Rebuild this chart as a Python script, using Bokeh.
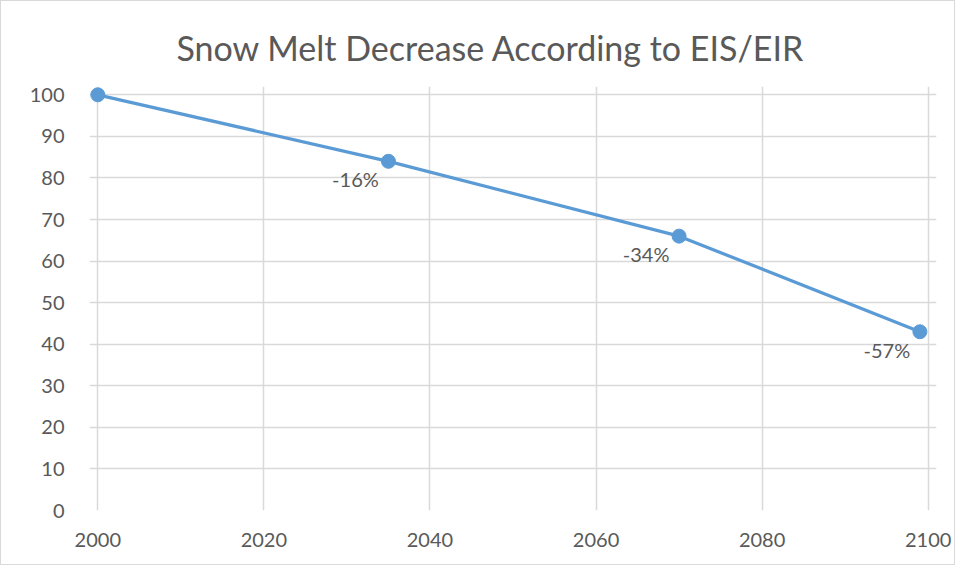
from bokeh.plotting import figure
from bokeh.models import ColumnDataSource, Range1d, FixedTicker
from bokeh.embed import file_html
from bokeh.resources import INLINE
from bokeh.core.properties import value

years = [2000, 2035, 2070, 2099]
snow_melt = [100, 84, 66, 43]
labels = ["", "-16%", "-34%", "-57%"]
x_ticks = [2000, 2020, 2040, 2060, 2080, 2100]
y_ticks = [0, 10, 20, 30, 40, 50, 60, 70, 80, 90, 100]

src = ColumnDataSource(dict(x=years, y=snow_melt, lab=labels))

FONT = "Lato"
GREY = "#595959"
GRID = "#d9d9d9"

p = figure(width=955, height=565, output_backend="svg", toolbar_location=None,
           x_range=Range1d(1999, 2101), y_range=Range1d(0, 102),
           title="Snow Melt Decrease According to EIS/EIR",
           min_border_left=88, min_border_right=20, min_border_top=85, min_border_bottom=56)
p.outline_line_color = None
p.title.text_font = FONT
p.title.text_font_size = "34px"
p.title.text_font_style = "normal"
p.title.text_color = GREY
p.title.align = "left"
p.title.offset = 87
p.title.standoff = 37
p.styles = {"border": "1px solid #d9d9d9"}

p.xaxis.ticker = FixedTicker(ticks=x_ticks)
p.yaxis.ticker = FixedTicker(ticks=y_ticks)
for ax in (p.xaxis, p.yaxis):
    ax.major_tick_line_color = None
    ax.minor_tick_line_color = None
    ax.axis_line_color = None
    ax.major_label_text_font = FONT
    ax.major_label_text_font_size = "20px"
    ax.major_label_text_color = GREY
p.xaxis.major_label_standoff = 16
p.yaxis.major_label_standoff = 19
p.xgrid.grid_line_color = GRID
p.ygrid.grid_line_color = GRID
p.xgrid.grid_line_width = 1.5
p.ygrid.grid_line_width = 1.5

p.line("x", "y", source=src, line_color="#5B9BD5", line_width=3.25)
p.scatter("x", "y", source=src, size=14, fill_color="#5B9BD5", line_color="#5B9BD5")
p.text("x", "y", text="lab", source=src, x_offset=-33, y_offset=6,
       text_align="center", text_baseline="top", text_font=value(FONT),
       text_font_size="20px", text_color=GREY)

open("out.html", "w").write(file_html(p, INLINE))
